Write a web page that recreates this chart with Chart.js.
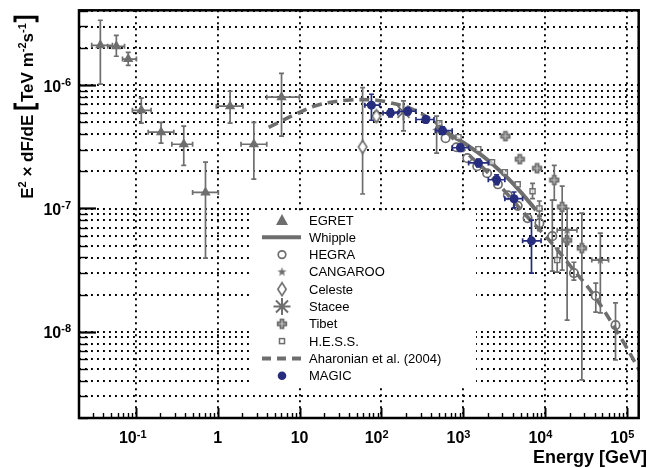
<!DOCTYPE html>
<html>
<head>
<meta charset="utf-8">
<title>Crab spectrum</title>
<script src="https://cdn.jsdelivr.net/npm/chart.js@4.4.1/dist/chart.umd.min.js"></script>
<style>
  html, body { margin: 0; padding: 0; background: #fff; }
  #wrap { width: 649px; height: 468px; }
</style>
</head>
<body>
<div id="wrap"><canvas id="spectrum"></canvas></div>
<script>
const GRAY = '#6e6e6e';
const BLUE = '#262c7e';
const FONT = '"Liberation Sans", Arial, Helvetica, sans-serif';

// axis ranges: energy in GeV, flux in TeV m^-2 s^-1
const xRange = [0.0203, 1.384e5];
const yRange = [1.992e-9, 4.058e-6];
const xDecades = [0.1, 1, 10, 100, 1000, 10000, 100000];
const xDecadeLabels = [['10', '-1'], ['1', ''], ['10', ''], ['10', '2'], ['10', '3'], ['10', '4'], ['10', '5']];
const yDecades = [1e-8, 1e-7, 1e-6];
const yDecadeLabels = [['10', '-8'], ['10', '-7'], ['10', '-6']];

// EGRET
const egretE   = [0.037, 0.058, 0.081, 0.117, 0.204, 0.386, 0.711, 1.42, 2.77, 6.03];
const egretF   = [2.11e-6, 2.07e-6, 1.63e-6, 6.26e-7, 4.16e-7, 3.32e-7, 1.35e-7, 6.76e-7, 3.32e-7, 8.0e-7];
const egretElo = [0.029, 0.0455, 0.069, 0.091, 0.142, 0.276, 0.495, 0.964, 1.93, 3.98];
const egretEhi = [0.052, 0.073, 0.102, 0.154, 0.292, 0.495, 1.02, 2.04, 3.98, 9.95];
const egretFlo = [1.02e-6, 1.72e-6, 1.45e-6, 4.92e-7, 3.39e-7, 2.24e-7, 3.95e-8, 4.92e-7, 1.73e-7, 3.86e-7];
const egretFhi = [3.37e-6, 2.54e-6, 1.85e-6, 7.85e-7, 5.0e-7, 4.65e-7, 2.38e-7, 8.94e-7, 5.0e-7, 1.25e-6];

// Whipple fit
const whippleE = [450, 641, 1517, 2955, 4613, 7700];
const whippleF = [4.5e-7, 4.1e-7, 2.84e-7, 1.96e-7, 1.45e-7, 9.7e-8];

// HEGRA
const hegraE   = [607, 824, 1119, 1477, 1950, 2646, 3494, 4613, 6085, 8490, 12200, 22400, 41400, 72100];
const hegraF   = [3.72e-7, 3.14e-7, 2.56e-7, 2.2e-7, 1.93e-7, 1.57e-7, 1.28e-7, 1.05e-7, 8.35e-8, 7.6e-8, 5.96e-8, 2.99e-8, 1.95e-8, 1.13e-8];
const hegraFlo = [null, null, null, null, null, null, null, null, null, 6.6e-8, 3.1e-8, 2.62e-8, 1.44e-8, 5.89e-9];
const hegraFhi = [null, null, null, null, null, null, null, null, null, 8.8e-8, 1.17e-7, 3.66e-8, 2.48e-8, 1.71e-8];

// CANGAROO
const cangE   = [472, 18500, 47100];
const cangF   = [4.31e-7, 6.67e-8, 3.81e-8];
const cangElo = [null, 14000, 37000];
const cangEhi = [null, 24400, 59300];
const cangFlo = [2.81e-7, 1.24e-8, 1.42e-8];
const cangFhi = [5.61e-7, 1.0e-7, 6.31e-8];

// Celeste
const celesteE   = [58.9, 86.9];
const celesteF   = [3.16e-7, 5.61e-7];
const celesteFlo = [1.31e-7, 5.1e-7];
const celesteFhi = [9.58e-7, 6.1e-7];

// Stacee
const staceeE   = [186];
const staceeF   = [6.08e-7];
const staceeFlo = [4.26e-7];
const staceeFhi = [7.46e-7];

// Tibet
const tibetE   = [3266, 4890, 7960, 12900, 16100, 18500, 28000];
const tibetF   = [3.86e-7, 2.51e-7, 2.12e-7, 1.7e-7, 1.03e-7, 5.52e-8, 4.76e-8];
const tibetFlo = [null, null, null, 1.17e-7, 3.16e-8, null, 4.06e-9];
const tibetFhi = [null, null, null, 2.24e-7, 1.52e-7, null, 9.16e-8];

// H.E.S.S.
const hessE   = [509, 873, 1523, 2240, 3215, 4610, 7000, 8490, 14000];
const hessF   = [4.92e-7, 3.79e-7, 3.03e-7, 2.37e-7, 1.97e-7, 1.57e-7, 1.38e-7, 1.0e-7, 3.81e-8];
const hessFlo = [null, null, null, null, null, null, 1.2e-7, 8.6e-8, 3.04e-8];
const hessFhi = [null, null, null, null, null, null, 1.6e-7, 1.15e-7, 4.77e-8];

// Aharonian et al. (2004) model curve
const aharE = [4.2, 9.5, 16.5, 37.9, 87, 130, 210, 350, 560, 1000, 2000, 3300, 6000, 10000, 14800, 21200, 39100, 89900, 140000];
const aharF = [4.56e-7, 5.93e-7, 6.89e-7, 7.56e-7, 7.56e-7, 7.2e-7, 6.6e-7, 5.6e-7, 4.5e-7, 3.0e-7, 1.95e-7, 1.35e-7, 8.6e-8, 6.0e-8, 4.43e-8, 3.3e-8, 1.98e-8, 8.24e-9, 4.89e-9];

// MAGIC
const magicE   = [75.5, 129, 209, 348, 558, 920, 1531, 2552, 4159, 6793];
const magicF   = [6.89e-7, 5.96e-7, 6.15e-7, 5.27e-7, 4.28e-7, 3.11e-7, 2.34e-7, 1.71e-7, 1.2e-7, 5.46e-8];
const magicElo = [62.7, 104.5, 164, 264, 459, 731, 1161, 2018, 3213, 5296];
const magicEhi = [95.1, 158.5, 264, 438, 731, 1161, 2018, 3213, 5296, 8893];
const magicFlo = [5.2e-7, 5.53e-7, 5.75e-7, 4.95e-7, 4.0e-7, 2.9e-7, 2.17e-7, 1.56e-7, 1.01e-7, 2.99e-8];
const magicFhi = [8.45e-7, 6.42e-7, 6.6e-7, 5.6e-7, 4.6e-7, 3.33e-7, 2.52e-7, 1.87e-7, 1.36e-7, 8.04e-8];

const legendNames = ['EGRET', 'Whipple', 'HEGRA', 'CANGAROO', 'Celeste', 'Stacee', 'Tibet', 'H.E.S.S.', 'Aharonian et al. (2004)', 'MAGIC'];

// helpers
function isDecade(v) {
    const l = Math.log10(v);
    return Math.abs(l - Math.round(l)) < 1e-6;
}
function logTicks(lo, hi) {
    const out = [];
    for (let e = Math.floor(Math.log10(lo)); e <= Math.ceil(Math.log10(hi)); e++) {
        for (let m = 1; m <= 9; m++) {
            const v = m * Math.pow(10, e);
            if (v > lo * 1.001 && v < hi * 0.999) out.push(v);
        }
    }
    return out;
}
const xTickValues = logTicks(xRange[0], xRange[1]);
const yTickValues = logTicks(yRange[0], yRange[1]);

function points(xs, ys) {
    return xs.map((v, i) => ({ x: v, y: ys[i] }));
}

function markerCanvas(w, h, draw) {
    const c = document.createElement('canvas');
    c.width = w;
    c.height = h;
    draw(c.getContext('2d'), w / 2, h / 2);
    return c;
}
const starImg = markerCanvas(11, 11, (g, cx, cy) => {
    g.beginPath();
    for (let k = 0; k < 10; k++) {
        const r = k % 2 ? 2 : 4.8;
        const a = -Math.PI / 2 + k * Math.PI / 5;
        g.lineTo(cx + r * Math.cos(a), cy + r * Math.sin(a));
    }
    g.closePath();
    g.fillStyle = GRAY;
    g.fill();
});
const diamondImg = markerCanvas(12, 16, (g, cx, cy) => {
    g.beginPath();
    g.moveTo(cx, cy - 6.5); g.lineTo(cx + 4.2, cy); g.lineTo(cx, cy + 6.5); g.lineTo(cx - 4.2, cy);
    g.closePath();
    g.fillStyle = '#fff';
    g.fill();
    g.strokeStyle = GRAY;
    g.lineWidth = 1.6;
    g.stroke();
});
const crossImg = markerCanvas(12, 12, (g, cx, cy) => {
    const a = 1.5, b = 4.3;
    g.beginPath();
    g.moveTo(cx - a, cy - b); g.lineTo(cx + a, cy - b); g.lineTo(cx + a, cy - a); g.lineTo(cx + b, cy - a);
    g.lineTo(cx + b, cy + a); g.lineTo(cx + a, cy + a); g.lineTo(cx + a, cy + b); g.lineTo(cx - a, cy + b);
    g.lineTo(cx - a, cy + a); g.lineTo(cx - b, cy + a); g.lineTo(cx - b, cy - a); g.lineTo(cx - a, cy - a);
    g.closePath();
    g.fillStyle = '#c4c4c4';
    g.fill();
    g.strokeStyle = GRAY;
    g.lineWidth = 1.8;
    g.stroke();
});

// error bars drawn before each dataset's markers
const errorBarPlugin = {
    id: 'errorBars',
    beforeDatasetDraw(chart, args) {
        const ds = chart.data.datasets[args.index];
        const eb = ds.errorBars;
        if (!eb) return;
        const { ctx, chartArea: a, scales: { x, y } } = chart;
        const cap = 2.5;
        ctx.save();
        ctx.beginPath();
        ctx.rect(a.left, a.top, a.right - a.left, a.bottom - a.top);
        ctx.clip();
        ctx.strokeStyle = ds.borderColor;
        ctx.lineWidth = 1.7;
        ds.data.forEach((p, i) => {
            const px = x.getPixelForValue(p.x);
            const py = y.getPixelForValue(p.y);
            ctx.beginPath();
            if (eb.xLo && eb.xLo[i] != null) {
                const l = x.getPixelForValue(eb.xLo[i]);
                const r = x.getPixelForValue(eb.xHi[i]);
                ctx.moveTo(l, py); ctx.lineTo(r, py);
                ctx.moveTo(l, py - cap); ctx.lineTo(l, py + cap);
                ctx.moveTo(r, py - cap); ctx.lineTo(r, py + cap);
            }
            if (eb.yLo && eb.yLo[i] != null) {
                const b = y.getPixelForValue(eb.yLo[i]);
                const t = y.getPixelForValue(eb.yHi[i]);
                ctx.moveTo(px, b); ctx.lineTo(px, t);
                ctx.moveTo(px - cap, b); ctx.lineTo(px + cap, b);
                ctx.moveTo(px - cap, t); ctx.lineTo(px + cap, t);
            }
            ctx.stroke();
        });
        ctx.restore();
    }
};

// text with superscripts and tall brackets
function partsWidth(ctx, parts, main, sup) {
    let w = 0;
    parts.forEach(p => {
        if (p.br) { w += 8; return; }
        ctx.font = p.sup ? sup : main;
        w += ctx.measureText(p.t).width;
    });
    return w;
}
function drawParts(ctx, parts, x, y, main, sup, raise) {
    let cx = x;
    parts.forEach(p => {
        if (p.br) {
            ctx.save();
            ctx.lineWidth = 3;
            ctx.beginPath();
            if (p.br === '[') {
                ctx.moveTo(cx + 7, y - 18); ctx.lineTo(cx + 2, y - 18); ctx.lineTo(cx + 2, y + 4); ctx.lineTo(cx + 7, y + 4);
            } else {
                ctx.moveTo(cx + 1, y - 18); ctx.lineTo(cx + 6, y - 18); ctx.lineTo(cx + 6, y + 4); ctx.lineTo(cx + 1, y + 4);
            }
            ctx.stroke();
            ctx.restore();
            cx += 8;
            return;
        }
        ctx.font = p.sup ? sup : main;
        ctx.fillText(p.t, cx, p.sup ? y - raise : y);
        cx += ctx.measureText(p.t).width;
    });
}

const decorPlugin = {
    id: 'decor',
    afterDraw(chart) {
        const { ctx, chartArea: a, scales: { x, y } } = chart;
        ctx.save();
        ctx.strokeStyle = '#000';
        ctx.fillStyle = '#000';

        // inward tick marks
        yTickValues.forEach(v => {
            const py = Math.round(y.getPixelForValue(v)) + 0.5;
            const major = isDecade(v);
            ctx.lineWidth = major ? 2.2 : 1.4;
            ctx.beginPath();
            ctx.moveTo(a.left, py);
            ctx.lineTo(a.left + (major ? 17 : 9), py);
            ctx.stroke();
        });
        xTickValues.forEach(v => {
            const px = Math.round(x.getPixelForValue(v)) + 0.5;
            const major = isDecade(v);
            ctx.lineWidth = major ? 2 : 1.4;
            ctx.beginPath();
            ctx.moveTo(px, a.bottom);
            ctx.lineTo(px, a.bottom - (major ? 10 : 5));
            ctx.stroke();
        });

        // frame
        ctx.lineWidth = 2.5;
        ctx.strokeRect(a.left, a.top, a.right - a.left, a.bottom - a.top);

        // tick labels
        const main = 'bold 16px ' + FONT;
        const sup = 'bold 11px ' + FONT;
        ctx.textBaseline = 'alphabetic';
        ctx.textAlign = 'left';
        yDecades.forEach((v, i) => {
            const py = y.getPixelForValue(v);
            const parts = [{ t: yDecadeLabels[i][0] }, { t: yDecadeLabels[i][1], sup: true }];
            const w = partsWidth(ctx, parts, main, sup);
            drawParts(ctx, parts, 71 - w, py + 6.5, main, sup, 6);
        });
        xDecades.forEach((v, i) => {
            const px = x.getPixelForValue(v);
            const [base, exp] = xDecadeLabels[i];
            ctx.font = main;
            const w = ctx.measureText(base).width;
            if (exp) {
                drawParts(ctx, [{ t: base }, { t: exp, sup: true }], px + 1 - w, 443, main, sup, 5.5);
            } else {
                ctx.fillText(base, px - w / 2, 443);
            }
        });

        // axis titles
        ctx.font = 'bold 18px ' + FONT;
        ctx.textAlign = 'right';
        ctx.fillText('Energy [GeV]', 647, 463);
        ctx.textAlign = 'left';

        const titleParts = [
            { t: 'E' }, { t: '2', sup: true }, { t: ' \u00d7 dF/dE ' }, { br: '[' },
            { t: 'TeV m' }, { t: '-2', sup: true }, { t: 's' }, { t: '-1', sup: true }, { br: ']' }
        ];
        const tMain = 'bold 17px ' + FONT;
        const tSup = 'bold 11px ' + FONT;
        ctx.save();
        ctx.translate(33, 107);
        ctx.rotate(-Math.PI / 2);
        const tw = partsWidth(ctx, titleParts, tMain, tSup);
        drawParts(ctx, titleParts, -tw / 2, 0, tMain, tSup, 7.5);
        ctx.restore();

        // legend
        const lx = 250, ly = 211, lw = 226, lh = 175;
        ctx.fillStyle = '#fff';
        ctx.fillRect(lx, ly, lw, lh);
        const mx = 282, tx = 309;
        ctx.font = '13px ' + FONT;
        ctx.textBaseline = 'middle';
        legendNames.forEach((name, i) => {
            const my = 220 + i * 17.3;
            drawLegendMarker(ctx, i, mx, my);
            ctx.fillStyle = '#000';
            ctx.fillText(name, tx, my + 1);
        });
        ctx.restore();
    }
};

function drawLegendMarker(ctx, i, mx, my) {
    ctx.save();
    ctx.fillStyle = GRAY;
    ctx.strokeStyle = GRAY;
    switch (i) {
        case 0: // triangle
            ctx.beginPath();
            ctx.moveTo(mx, my - 6); ctx.lineTo(mx + 6, my + 5); ctx.lineTo(mx - 6, my + 5);
            ctx.closePath();
            ctx.fill();
            break;
        case 1: // solid line
            ctx.lineWidth = 4;
            ctx.beginPath(); ctx.moveTo(262, my); ctx.lineTo(301, my); ctx.stroke();
            break;
        case 2:
            ctx.lineWidth = 1.7;
            ctx.beginPath(); ctx.arc(mx, my, 3.8, 0, Math.PI * 2); ctx.stroke();
            break;
        case 3:
            ctx.drawImage(starImg, mx - 5.5, my - 5.5);
            break;
        case 4:
            ctx.drawImage(diamondImg, mx - 6, my - 8);
            break;
        case 5: // asterisk
            ctx.lineWidth = 2;
            ctx.beginPath();
            for (let k = 0; k < 4; k++) {
                const ang = k * Math.PI / 4;
                ctx.moveTo(mx - 8.5 * Math.cos(ang), my - 8.5 * Math.sin(ang));
                ctx.lineTo(mx + 8.5 * Math.cos(ang), my + 8.5 * Math.sin(ang));
            }
            ctx.stroke();
            break;
        case 6:
            ctx.drawImage(crossImg, mx - 6, my - 6);
            break;
        case 7:
            ctx.lineWidth = 1.5;
            ctx.strokeRect(mx - 2.5, my - 2.5, 5, 5);
            break;
        case 8: // dashed line
            ctx.lineWidth = 4;
            ctx.setLineDash([9, 6]);
            ctx.beginPath(); ctx.moveTo(262, my); ctx.lineTo(301, my); ctx.stroke();
            break;
        case 9:
            ctx.fillStyle = BLUE;
            ctx.beginPath(); ctx.arc(mx, my, 4.3, 0, Math.PI * 2); ctx.fill();
            break;
    }
    ctx.restore();
}

const marker = { showLine: false, borderColor: GRAY, backgroundColor: GRAY };

const datasets = [
    {
        label: 'MAGIC', data: points(magicE, magicF), showLine: false,
        pointStyle: 'circle', pointRadius: 4.5, borderWidth: 0,
        backgroundColor: BLUE, borderColor: BLUE,
        errorBars: { xLo: magicElo, xHi: magicEhi, yLo: magicFlo, yHi: magicFhi }
    },
    {
        ...marker, label: 'Stacee', data: points(staceeE, staceeF),
        pointStyle: 'star', pointRadius: 8.5, borderWidth: 1.8,
        errorBars: { yLo: staceeFlo, yHi: staceeFhi }
    },
    {
        ...marker, label: 'Celeste', data: points(celesteE, celesteF),
        pointStyle: diamondImg, pointRadius: 6,
        errorBars: { yLo: celesteFlo, yHi: celesteFhi }
    },
    {
        ...marker, label: 'HEGRA', data: points(hegraE, hegraF),
        pointStyle: 'circle', pointRadius: 4.2, borderWidth: 1.7, backgroundColor: 'rgba(0,0,0,0)',
        errorBars: { yLo: hegraFlo, yHi: hegraFhi }
    },
    {
        ...marker, label: 'H.E.S.S.', data: points(hessE, hessF),
        pointStyle: 'rect', pointRadius: 3.6, borderWidth: 1.4, backgroundColor: 'rgba(255,255,255,0.6)',
        errorBars: { yLo: hessFlo, yHi: hessFhi }
    },
    {
        ...marker, label: 'CANGAROO', data: points(cangE, cangF),
        pointStyle: starImg, pointRadius: 5,
        errorBars: { xLo: cangElo, xHi: cangEhi, yLo: cangFlo, yHi: cangFhi }
    },
    {
        ...marker, label: 'Tibet', data: points(tibetE, tibetF),
        pointStyle: crossImg, pointRadius: 6,
        errorBars: { yLo: tibetFlo, yHi: tibetFhi }
    },
    {
        ...marker, label: 'EGRET', data: points(egretE, egretF),
        pointStyle: 'triangle', pointRadius: 6, borderWidth: 0,
        errorBars: { xLo: egretElo, xHi: egretEhi, yLo: egretFlo, yHi: egretFhi }
    },
    {
        label: 'Whipple', data: points(whippleE, whippleF), showLine: true,
        borderColor: GRAY, borderWidth: 4, pointRadius: 0, tension: 0.4, fill: false
    },
    {
        label: 'Aharonian et al. (2004)', data: points(aharE, aharF), showLine: true,
        borderColor: GRAY, borderWidth: 3.6, borderDash: [10, 6], pointRadius: 0, tension: 0.4, fill: false
    }
];

function axis(range, tickValues, decadesOnly) {
    return {
        type: 'logarithmic',
        min: range[0],
        max: range[1],
        afterBuildTicks: scale => { scale.ticks = tickValues.map(v => ({ value: v })); },
        ticks: { display: false },
        grid: {
            drawTicks: false,
            lineWidth: 1.9,
            color: c => (!decadesOnly || (c.tick && isDecade(c.tick.value))) ? '#000' : 'rgba(0,0,0,0)'
        },
        border: { display: false, dash: [1.9, 4.1] },
        title: { display: false }
    };
}

new Chart(document.getElementById('spectrum'), {
    type: 'scatter',
    data: { datasets },
    options: {
        responsive: true,
        maintainAspectRatio: false,
        devicePixelRatio: 1,
        animation: false,
        layout: { padding: { left: 79, top: 10, right: 3.5, bottom: 50 } },
        scales: {
            x: axis(xRange, xTickValues, true),
            y: axis(yRange, yTickValues, false)
        },
        plugins: {
            legend: { display: false },
            tooltip: { enabled: false }
        }
    },
    plugins: [errorBarPlugin, decorPlugin]
});
</script>
</body>
</html>
